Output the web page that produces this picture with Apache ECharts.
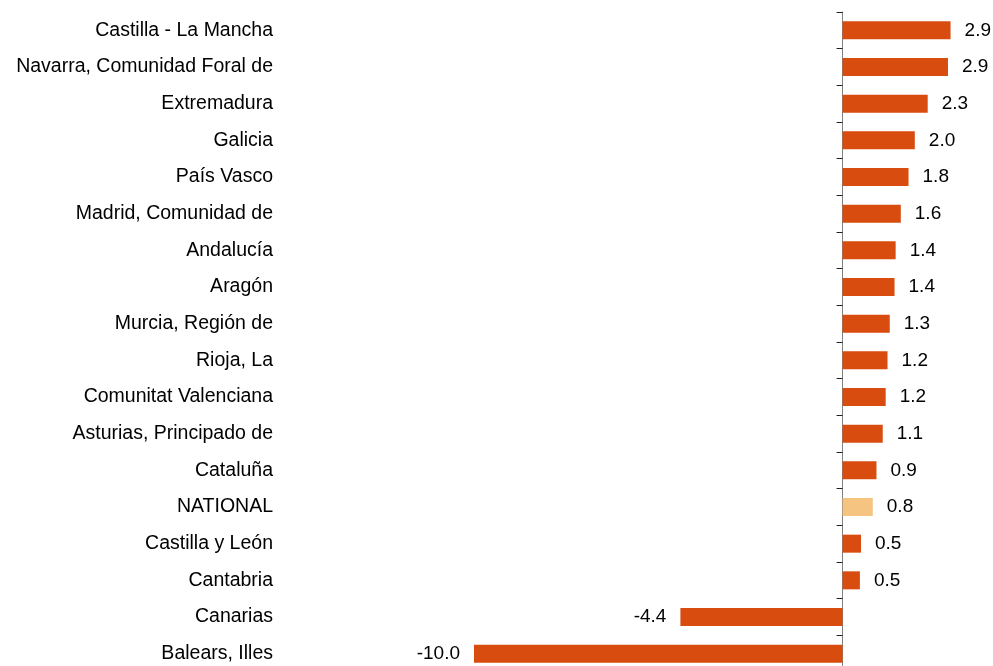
<!DOCTYPE html>
<html>
<head>
<meta charset="utf-8">
<script src="https://cdn.jsdelivr.net/npm/echarts@6/dist/echarts.min.js"></script>
<style>
  html, body { margin: 0; padding: 0; background: #fff; }
  #chart { width: 993px; height: 666px; }
</style>
</head>
<body>
<div id="chart"></div>
<script>
  // regions, top to bottom
  const regions = [
    'Castilla - La Mancha', 'Navarra, Comunidad Foral de', 'Extremadura', 'Galicia',
    'País Vasco', 'Madrid, Comunidad de', 'Andalucía', 'Aragón', 'Murcia, Región de',
    'Rioja, La', 'Comunitat Valenciana', 'Asturias, Principado de', 'Cataluña',
    'NATIONAL', 'Castilla y León', 'Cantabria', 'Canarias', 'Balears, Illes'
  ];
  const values = [2.93, 2.86, 2.31, 1.96, 1.79, 1.58, 1.44, 1.41, 1.28, 1.22, 1.17, 1.09, 0.92, 0.82, 0.50, 0.47, -4.40, -10.0];
  const highlight = 'NATIONAL';

  const barColor = '#D84D0F';
  const nationalColor = '#F5C480';

  const chart = echarts.init(document.getElementById('chart'));

  const seriesData = values.map((v, i) => ({
    value: v,
    itemStyle: { color: regions[i] === highlight ? nationalColor : barColor },
    label: { position: v < 0 ? 'left' : 'right' },
  }));

  const option = {
    animation: false,
    grid: { left: 474, right: 3, top: 12, bottom: -6, outerBoundsMode: 'none', containLabel: false },
    xAxis: {
      type: 'value',
      min: -10,
      max: 4,
      show: false,
    },
    yAxis: [
      {
        // labels only, at the left edge
        type: 'category',
        data: regions,
        inverse: true,
        position: 'left',
        axisLine: { show: false, onZero: false },
        axisTick: { show: false },
        axisLabel: {
          margin: 201,
          color: '#000',
          fontSize: 19.5,
          fontFamily: 'Liberation Sans, Arial, sans-serif',
        },
        splitLine: { show: false },
      },
      {
        // axis line and ticks on zero
        type: 'category',
        data: regions,
        inverse: true,
        position: 'left',
        axisLine: { onZero: true, lineStyle: { color: '#7f7f7f', width: 1 } },
        axisTick: { show: true, length: 6, lineStyle: { color: '#222' } },
        axisLabel: { show: false },
        splitLine: { show: false },
      },
    ],
    series: [
      {
        type: 'bar',
        data: seriesData,
        barWidth: 18,
        label: {
          show: true,
          distance: 14,
          color: '#000',
          fontSize: 19,
          fontFamily: 'Liberation Sans, Arial, sans-serif',
          formatter: (p) => p.value.toFixed(1),
        },
      },
    ],
  };
  chart.setOption(option);
</script>
</body>
</html>
